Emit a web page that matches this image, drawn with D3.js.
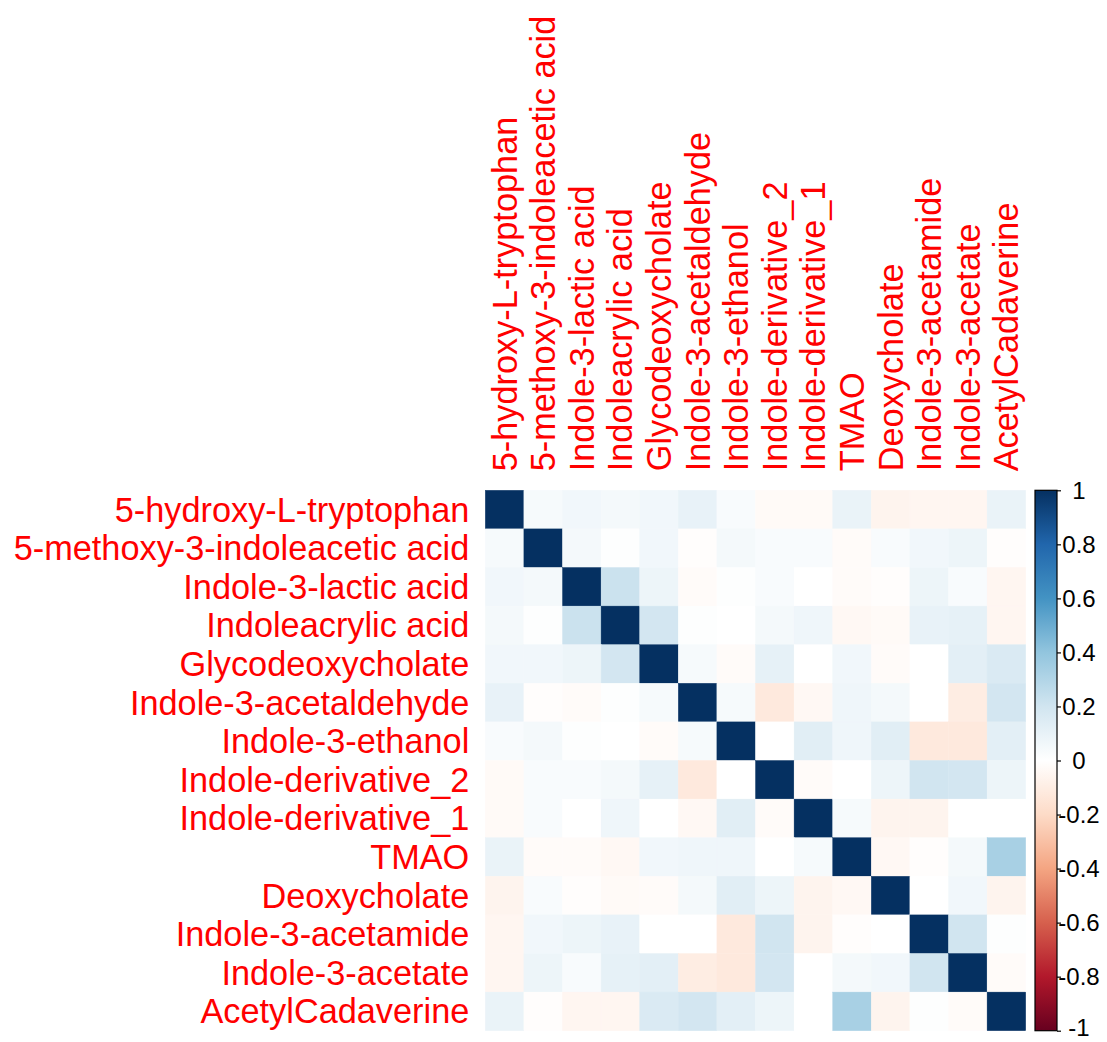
<!DOCTYPE html>
<html>
<head>
<meta charset="utf-8">
<script src="https://cdn.jsdelivr.net/npm/d3@7"></script>
<style>
  html, body { margin: 0; padding: 0; background: #ffffff; }
  svg { display: block; }
  text { font-family: "Liberation Sans", Arial, sans-serif; }
</style>
</head>
<body>
<svg id="chart" width="1107" height="1042"></svg>
<script>
// ---- Data ----
const variables = [
  "5-hydroxy-L-tryptophan",
  "5-methoxy-3-indoleacetic acid",
  "Indole-3-lactic acid",
  "Indoleacrylic acid",
  "Glycodeoxycholate",
  "Indole-3-acetaldehyde",
  "Indole-3-ethanol",
  "Indole-derivative_2",
  "Indole-derivative_1",
  "TMAO",
  "Deoxycholate",
  "Indole-3-acetamide",
  "Indole-3-acetate",
  "AcetylCadaverine"
];

// correlation matrix rows (symmetric)
const r00 = [ 1.00, 0.04, 0.06, 0.05, 0.06, 0.10, 0.03,-0.03,-0.03, 0.09,-0.06,-0.05,-0.05, 0.09];
const r01 = [ 0.04, 1.00, 0.05, 0.01, 0.06,-0.01, 0.05, 0.03, 0.03,-0.02, 0.03, 0.06, 0.08,-0.01];
const r02 = [ 0.06, 0.05, 1.00, 0.22, 0.08,-0.02, 0.01, 0.03, 0.00,-0.02,-0.01, 0.08, 0.03,-0.05];
const r03 = [ 0.05, 0.01, 0.22, 1.00, 0.19, 0.01, 0.00, 0.05, 0.07,-0.04,-0.03, 0.10, 0.11,-0.05];
const r04 = [ 0.06, 0.06, 0.08, 0.19, 1.00, 0.04,-0.02, 0.11, 0.00, 0.06,-0.02, 0.00, 0.12, 0.16];
const r05 = [ 0.10,-0.01,-0.02, 0.01, 0.04, 1.00, 0.04,-0.12,-0.04, 0.07, 0.05, 0.00,-0.10, 0.19];
const r06 = [ 0.03, 0.05, 0.01, 0.00,-0.02, 0.04, 1.00, 0.00, 0.13, 0.07, 0.13,-0.12,-0.12, 0.12];
const r07 = [-0.03, 0.03, 0.03, 0.05, 0.11,-0.12, 0.00, 1.00,-0.02, 0.00, 0.08, 0.20, 0.19, 0.08];
const r08 = [-0.03, 0.03, 0.00, 0.07, 0.00,-0.04, 0.13,-0.02, 1.00, 0.04,-0.06,-0.06, 0.00, 0.00];
const r09 = [ 0.09,-0.02,-0.02,-0.04, 0.06, 0.07, 0.07, 0.00, 0.04, 1.00,-0.04,-0.01, 0.05, 0.33];
const r10 = [-0.06, 0.03,-0.01,-0.03,-0.02, 0.05, 0.13, 0.08,-0.06,-0.04, 1.00, 0.00, 0.06,-0.06];
const r11 = [-0.05, 0.06, 0.08, 0.10, 0.00, 0.00,-0.12, 0.20,-0.06,-0.01, 0.00, 1.00, 0.20, 0.01];
const r12 = [-0.05, 0.08, 0.03, 0.11, 0.12,-0.10,-0.12, 0.19, 0.00, 0.05, 0.06, 0.20, 1.00,-0.02];
const r13 = [ 0.09,-0.01,-0.05,-0.05, 0.16, 0.19, 0.12, 0.08, 0.00, 0.33,-0.06, 0.01,-0.02, 1.00];
const corrRows = [r00, r01, r02, r03, r04, r05, r06, r07, r08, r09, r10, r11, r12, r13];

const colorbarTicks = [1, 0.8, 0.6, 0.4, 0.2, 0, -0.2, -0.4, -0.6, -0.8, -1];
const colorbarTickLabels = ["1", "0.8", "0.6", "0.4", "0.2", "0", "-0.2", "-0.4", "-0.6", "-0.8", "-1"];

const paletteStops = [-1, -0.8, -0.6, -0.4, -0.2, 0, 0.2, 0.4, 0.6, 0.8, 1];
const paletteColors = ["#67001F", "#B2182B", "#D6604D", "#F4A582", "#FDDBC7", "#FFFFFF",
                       "#D1E5F0", "#92C5DE", "#4393C3", "#2166AC", "#053061"];

// ---- Layout ----
const svg = d3.select("#chart");
const gridLeft = 485.3, gridTop = 490.3, cell = 38.6;
const n = variables.length;
const labelSize = 34.3;

const x = d3.scaleBand().domain(variables).range([gridLeft, gridLeft + n * cell]).padding(0);
const y = d3.scaleBand().domain(variables).range([gridTop, gridTop + n * cell]).padding(0);
const color = d3.scaleLinear().domain(paletteStops).range(paletteColors).interpolate(d3.interpolateRgb);

const cells = [];
corrRows.forEach((row, i) => row.forEach((v, j) => cells.push({ r: variables[i], c: variables[j], v })));

svg.append("g").selectAll("rect").data(cells).join("rect")
  .attr("x", d => x(d.c))
  .attr("y", d => y(d.r))
  .attr("width", x.bandwidth())
  .attr("height", y.bandwidth())
  .attr("fill", d => color(d.v))
  .attr("stroke", d => color(d.v))
  .attr("stroke-width", 0.4);

// row labels
svg.append("g").selectAll("text").data(variables).join("text")
  .attr("x", gridLeft - 16)
  .attr("y", d => y(d) + y.bandwidth() / 2)
  .attr("text-anchor", "end")
  .attr("dominant-baseline", "central")
  .attr("font-size", labelSize)
  .attr("fill", "#FF0000")
  .text(d => d);

// column labels
svg.append("g").selectAll("text").data(variables).join("text")
  .attr("transform", d => `translate(${x(d) + x.bandwidth() / 2},${gridTop - 19}) rotate(-90)`)
  .attr("text-anchor", "start")
  .attr("dominant-baseline", "central")
  .attr("font-size", labelSize)
  .attr("fill", "#FF0000")
  .text(d => d);

// ---- Colorbar ----
const cbLeft = 1035, cbWidth = 22;
const cbScale = d3.scaleLinear().domain([-1, 1]).range([gridTop + n * cell, gridTop]);

const defs = svg.append("defs");
const grad = defs.append("linearGradient").attr("id", "cbgrad")
  .attr("x1", 0).attr("y1", 1).attr("x2", 0).attr("y2", 0);
grad.selectAll("stop").data(paletteStops).join("stop")
  .attr("offset", d => (d + 1) / 2)
  .attr("stop-color", d => color(d));

svg.append("rect")
  .attr("x", cbLeft).attr("y", cbScale(1))
  .attr("width", cbWidth).attr("height", cbScale(-1) - cbScale(1))
  .attr("fill", "url(#cbgrad)")
  .attr("stroke", "#000").attr("stroke-width", 1.2);

const axis = d3.axisRight(cbScale)
  .tickValues(colorbarTicks)
  .tickSize(4)
  .tickFormat((d, i) => colorbarTickLabels[i]);

const ag = svg.append("g").attr("transform", `translate(${cbLeft + cbWidth},0)`).call(axis);
ag.select(".domain").remove();
ag.selectAll(".tick line").attr("stroke", "#000").attr("stroke-width", 1.2);
ag.selectAll(".tick text")
  .attr("x", 22)
  .attr("dy", d => d === -1 ? "0.22em" : "0.33em")
  .attr("text-anchor", "middle")
  .attr("font-size", 24)
  .attr("font-family", "Liberation Sans, Arial, sans-serif")
  .attr("fill", "#000");
</script>
</body>
</html>
